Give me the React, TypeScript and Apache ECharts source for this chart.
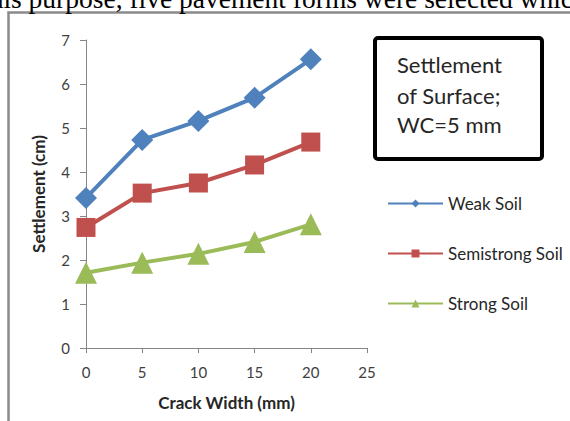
import React, { useEffect, useRef } from "react";
import * as echarts from "echarts";

const crackWidth = [0, 5, 10, 15, 20];
const weakSoil = [3.41, 4.73, 5.16, 5.69, 6.56];
const semistrongSoil = [2.74, 3.52, 3.75, 4.16, 4.68];
const strongSoil = [1.71, 1.94, 2.14, 2.41, 2.81];
const seriesNames = ["Weak Soil", "Semistrong Soil", "Strong Soil"];
const boxLines = ["Settlement", "of Surface;", "WC=5 mm"];
const topText = "this purpose, five pavement forms were selected which";

const FONT = "Lato, 'Open Sans', sans-serif";

export default function App() {
  const ref = useRef<HTMLDivElement>(null);
  useEffect(() => {
    document.body.style.margin = "0";
    const chart = echarts.init(ref.current!, null, { renderer: "svg" });
    const mk = (vals: number[]) => crackWidth.map((x, i) => [x, vals[i]]);
    const colors = ["#4F81BD", "#C0504D", "#9BBB59"];
    const symbols = ["diamond", "rect", "triangle"];
    const sizes = [22, 19, 22];
    const datas = [weakSoil, semistrongSoil, strongSoil];
    chart.setOption({
      animation: false,
      backgroundColor: "#ffffff",
      textStyle: { fontFamily: FONT },
      grid: { left: 86, right: 203, top: 40, bottom: 73, containLabel: false },
      xAxis: {
        type: "value",
        min: 0,
        max: 25,
        interval: 5,
        name: "Crack Width (mm)",
        nameLocation: "middle",
        nameGap: 46,
        nameTextStyle: { fontFamily: FONT, fontSize: 17, fontWeight: "bold", color: "#262626" },
        axisLine: { show: true, lineStyle: { color: "#868686", width: 1 } },
        axisTick: { show: true, length: 5, lineStyle: { color: "#868686" } },
        axisLabel: { fontFamily: FONT, fontSize: 15, color: "#404040", margin: 16 },
        splitLine: { show: false },
      },
      yAxis: {
        type: "value",
        min: 0,
        max: 7,
        interval: 1,
        name: "Settlement (cm)",
        nameLocation: "middle",
        nameGap: 39,
        nameTextStyle: { fontFamily: FONT, fontSize: 17, fontWeight: "bold", color: "#262626" },
        axisLine: { show: true, lineStyle: { color: "#868686", width: 1 } },
        axisTick: { show: true, length: 6, lineStyle: { color: "#868686" } },
        axisLabel: { fontFamily: FONT, fontSize: 15, color: "#404040", margin: 16 },
        splitLine: { show: false },
      },
      legend: {
        orient: "vertical",
        left: 387,
        top: 195,
        padding: 0,
        itemWidth: 55,
        itemHeight: 10,
        itemGap: 33,
        textStyle: { fontFamily: FONT, fontSize: 17, color: "#262626" },
        data: seriesNames,
      },
      series: seriesNames.map((name, i) => ({
        name,
        type: "line",
        data: mk(datas[i]),
        symbol: symbols[i],
        symbolSize: sizes[i],
        lineStyle: { color: colors[i], width: 4 },
        itemStyle: { color: colors[i] },
        z: 3 - i,
      })),
      graphic: [
        {
          type: "text",
          x: -18,
          y: -2,
          style: {
            text: topText,
            font: "27.5px 'Liberation Serif', serif",
            fill: "#000",
            verticalAlign: "middle",
          },
          z: 10,
        },
        {
          type: "rect",
          shape: { x: 8.5, y: 12.5, width: 700, height: 600 },
          style: { fill: "none", stroke: "#8a8a8a", lineWidth: 2.5 },
          z: 5,
        },
        {
          type: "rect",
          shape: { x: 375, y: 38, width: 167, height: 121, r: 3 },
          style: { fill: "#ffffff", stroke: "#000000", lineWidth: 4 },
          z: 5,
        },
        ...boxLines.map((t, i) => ({
          type: "text",
          x: 397,
          y: [64, 95, 124][i],
          style: {
            text: t,
            font: `22px ${FONT}`,
            fill: "#262626",
            verticalAlign: "middle",
          },
          z: 6,
        })),
      ],
    });
    return () => chart.dispose();
  }, []);
  return <div ref={ref} style={{ width: 570, height: 421, position: "absolute", left: 0, top: 0 }} />;
}
